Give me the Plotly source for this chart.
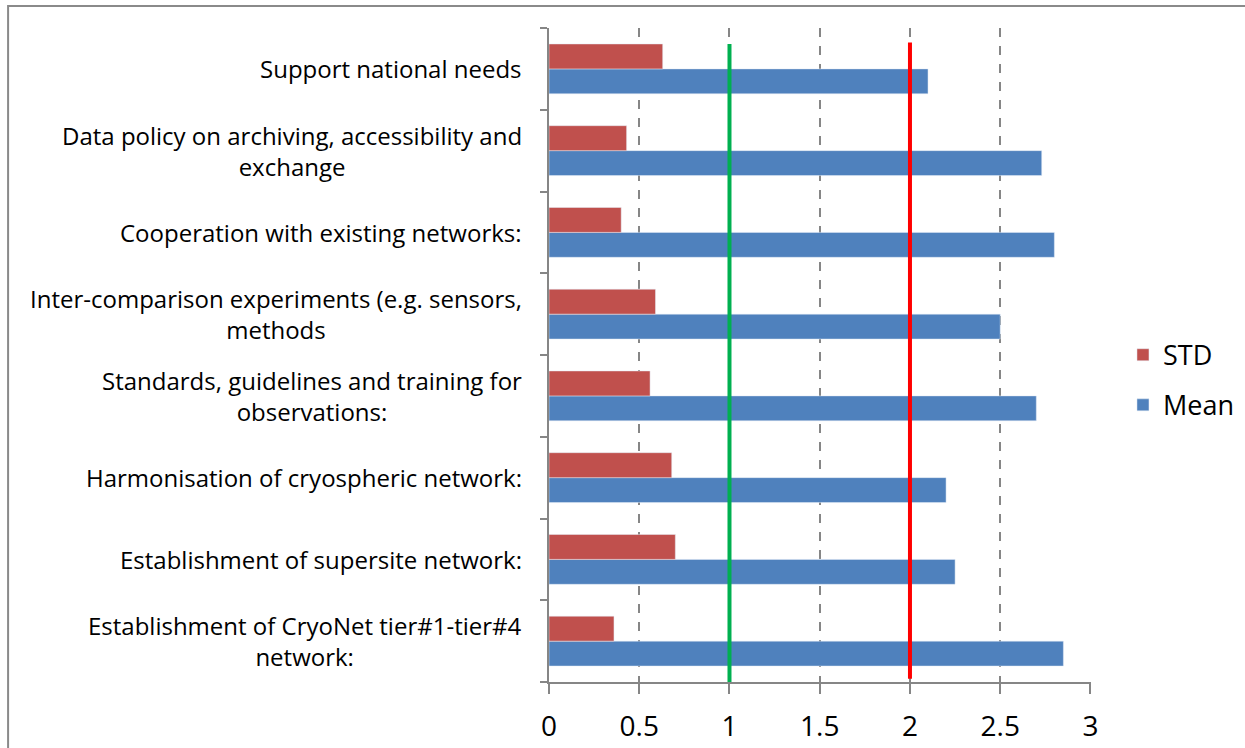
import plotly.graph_objects as go

# Categories listed bottom-to-top (Plotly draws the first category at the bottom)
categories = [
    "Establishment of CryoNet tier#1-tier#4<br>network:",
    "Establishment of supersite network:",
    "Harmonisation of cryospheric network:",
    "Standards, guidelines and training for<br>observations:",
    "Inter-comparison experiments (e.g. sensors,<br>methods",
    "Cooperation with existing networks:",
    "Data policy on archiving, accessibility and<br>exchange",
    "Support national needs",
]
mean_values = [2.85, 2.25, 2.20, 2.70, 2.50, 2.80, 2.73, 2.10]
std_values = [0.36, 0.70, 0.68, 0.56, 0.59, 0.40, 0.43, 0.63]
x_ticks = [0, 0.5, 1, 1.5, 2, 2.5, 3]
x_tick_labels = ["0", "0.5", "1", "1.5", "2", "2.5", "3"]
reference_lines = [1, 2]
reference_colors = ["#00B050", "#FF0000"]

FONT = "Open Sans"
GRAY = "#868686"

fig = go.Figure()
fig.add_trace(go.Bar(
    y=categories, x=mean_values, orientation="h", name="Mean",
    marker=dict(color="#4F81BD"), legendgroup="mean", legendrank=2,
))
fig.add_trace(go.Bar(
    y=categories, x=std_values, orientation="h", name="STD",
    marker=dict(color="#C0504D"), legendgroup="std", legendrank=1,
))

# reference lines
line_extents = [(0.0, 0.9755), (0.005, 0.978)]
for xv, col, (y0, y1) in zip(reference_lines, reference_colors, line_extents):
    fig.add_shape(type="line", xref="x", yref="paper", x0=xv, x1=xv, y0=y0, y1=y1,
                  line=dict(color=col, width=4), layer="above")

# outer chart border (partially cropped in the reference)
fig.add_shape(type="rect", xref="paper", yref="paper",
              x0=-0.998, x1=1.5, y0=-0.3, y1=1.0336,
              line=dict(color="#8a8a8a", width=2), fillcolor="rgba(0,0,0,0)")

# category labels as centered multi-line annotations
for cat in categories:
    fig.add_annotation(x=0, xref="paper", y=cat, yref="y", text=cat,
                       xanchor="right", yanchor="middle", xshift=-25,
                       align="center", showarrow=False,
                       font=dict(family=FONT, size=24, color="black"))

fig.update_layout(
    width=1245, height=748,
    margin=dict(l=549, r=154, t=28, b=66, autoexpand=False),
    paper_bgcolor="white", plot_bgcolor="white",
    barmode="group", bargap=0.39, bargroupgap=0,
    showlegend=True,
    legend=dict(x=1.059, xanchor="left", y=0.4615, yanchor="middle",
                traceorder="grouped", tracegroupgap=12,
                font=dict(family=FONT, size=27, color="black"),
                bgcolor="rgba(0,0,0,0)"),
    font=dict(family=FONT, color="black"),
)
fig.update_xaxes(
    range=[0, 3.003], tickvals=x_ticks, ticktext=x_tick_labels,
    showline=True, linecolor=GRAY, linewidth=2,
    ticks="outside", ticklen=10, tickwidth=2, tickcolor=GRAY,
    showgrid=True, gridcolor=GRAY, gridwidth=1.5, griddash="dash",
    zeroline=False, ticklabelstandoff=8,
    tickfont=dict(family=FONT, size=28, color="black"),
)
fig.update_yaxes(
    type="category", categoryorder="array", categoryarray=categories,
    showline=True, linecolor=GRAY, linewidth=2,
    ticks="outside", ticklen=7, tickwidth=2, tickcolor=GRAY,
    tickson="boundaries", showticklabels=False, showgrid=False, zeroline=False,
)

fig.write_html(
    "out.html",
    config={"displayModeBar": False},
    post_script="document.body.style.margin='0';document.body.style.overflow='hidden';",
)
